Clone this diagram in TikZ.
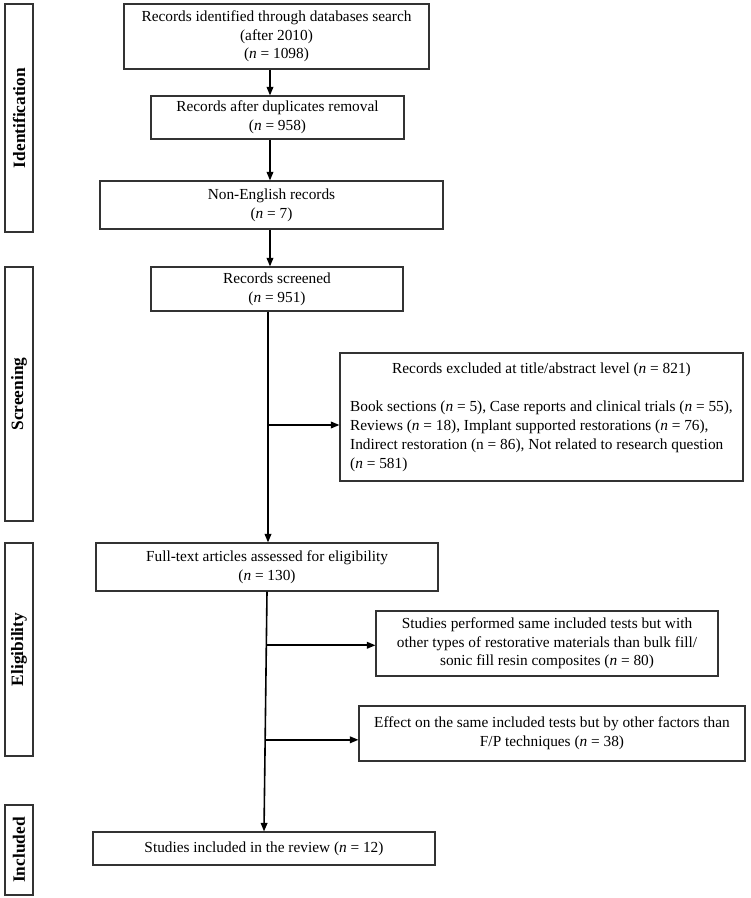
\documentclass[tikz,border=0pt]{standalone}
\usepackage{fontspec}
\setmainfont{Liberation Serif}
\usepackage{tikz}
\usetikzlibrary{arrows.meta,positioning,calc}
\tikzset{
  % Base styles
  diagram base/.style={
    x=0.75pt, y=-0.75pt,
    every node/.style={font=\fontsize{11.5}{14}\selectfont},
  },
  % Flow boxes
  flow box/.style={rectangle, draw=black!80, line width=0.8pt, align=center, inner sep=2pt},
  % Phase boxes on the left (rotated)
  phase box/.style={rectangle, draw=black!80, line width=0.8pt, rotate=90, minimum height=21pt,
    inner sep=0pt, font=\fontsize{13}{15}\selectfont\bfseries},
  % Connectors
  flow arrow/.style={-{Triangle[length=6.5pt,width=5pt]}, line width=1.2pt},
}
\newcommand{\nval}[1]{(\textit{n} = #1)}

\begin{document}
\begin{tikzpicture}[diagram base]
\useasboundingbox (0,0) rectangle (750,898);

% Phase boxes
\node[phase box, minimum width=171pt] (ident) at (19,118) {Identification};
\node[phase box, minimum width=190.5pt] (screen) at (19,394) {Screening};
\node[phase box, minimum width=159.75pt] (elig) at (19,649.5) {Eligibility};
\node[phase box, minimum width=67.5pt] (inclp) at (19,850) {Included};

% Main flow
\node[flow box, minimum width=228.75pt, minimum height=48.75pt] (idf) at (276.5,36.5)
  {Records identified through databases search\\(after 2010)\\\nval{1098}};
\node[flow box, minimum width=189.75pt, minimum height=32.25pt] (dup) at (277.5,117.5)
  {Records after duplicates removal\\\nval{958}};
\node[flow box, minimum width=257.25pt, minimum height=36pt] (nonen) at (271.5,205)
  {Non-English records\\\nval{7}};
\node[flow box, minimum width=189pt, minimum height=33pt] (scr) at (277,289)
  {Records screened\\\nval{951}};
\node[flow box, minimum width=256.5pt, minimum height=36pt] (full) at (267,567)
  {Full-text articles assessed for eligibility\\\nval{130}};
\node[flow box, minimum width=256.5pt, minimum height=24.75pt] (incl) at (264,848.5)
  {Studies included in the review \nval{12}};

% Exclusion boxes
\node[flow box, minimum width=302.25pt, minimum height=96pt, font=\fontsize{11.5}{14.25}\selectfont] (excl) at (541.5,417)
  {\begin{tabular}{@{}l@{}}
   \multicolumn{1}{@{}c@{}}{Records excluded at title/abstract level \nval{821}}\\[14.25pt]
   Book sections \nval{5}, Case reports and clinical trials \nval{55},\\
   Reviews \nval{18}, Implant supported restorations \nval{76},\\
   Indirect restoration (n = 86), Not related to research question\\
   \nval{581}
   \end{tabular}};
\node[flow box, minimum width=256.5pt, minimum height=48.75pt] (perf) at (547,643.5)
  {Studies performed same included tests but with\\other types of restorative materials than bulk fill/\\sonic fill resin composites \nval{80}};
\node[flow box, minimum width=289.5pt, minimum height=41.25pt] (eff) at (552,733.5)
  {Effect on the same included tests but by other factors than\\F/P techniques \nval{38}};

% Connectors
\coordinate (spine) at (270,0);
\coordinate (trunk) at (268,0);
\draw[flow arrow] (idf.south -| spine) -- (dup.north -| spine);
\draw[flow arrow] (dup.south -| spine) -- (nonen.north -| spine);
\draw[flow arrow] (nonen.south -| spine) -- (scr.north -| spine);
\draw[flow arrow] (scr.south -| trunk) -- (full.north -| trunk);
\coordinate (exfork) at (268,425);
\draw[flow arrow] (exfork) -- (exfork -| excl.west);

\draw[flow arrow] (full.south) -- (incl.north);
\coordinate (perffork) at ($(full.south)!0.224!(incl.north)$);
\coordinate (efffork) at ($(full.south)!0.618!(incl.north)$);
\draw[flow arrow] (perffork) -- (perffork -| perf.west);
\draw[flow arrow] (efffork) -- (efffork -| eff.west);
\end{tikzpicture}
\end{document}
